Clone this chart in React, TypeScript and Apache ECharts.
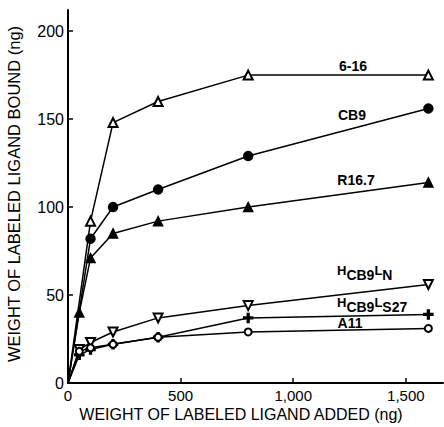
import React, { useEffect, useRef } from "react";
import * as echarts from "echarts";

const ligandAdded = [0, 50, 100, 200, 400, 800, 1600];
const s616 = [0, null, 92, 148, 160, 175, 175];
const sCB9 = [0, null, 82, 100, 110, 129, 156];
const sR167 = [0, 40, 71, 85, 92, 100, 114];
const sHLN = [0, 19, 23, 29, 37, 44, 56];
const sHLS27 = [0, 16, 19, 22, 26, 37, 39];
const sA11 = [0, 18, 20, 22, 26, 29, 31];
const xTicks = [0, 500, 1000, 1500];
const yTicks = [0, 50, 100, 150, 200];

const FONT = "'Liberation Sans', Arial, sans-serif";
const PLUS = "path://M4,0H6V4H10V6H6V10H4V6H0V4H4Z";

function mk(name: string, vals: (number | null)[], symbol: string, size: number, rotate = 0) {
  const data: any[] = [];
  ligandAdded.forEach((x, i) => {
    const v = vals[i];
    if (v === null || v === undefined) return;
    if (x === 0) data.push({ value: [x, v], symbol: "none" });
    else data.push([x, v]);
  });
  return {
    name,
    type: "line",
    data,
    symbol,
    symbolSize: size,
    symbolRotate: rotate,
    showAllSymbol: true,
    lineStyle: { color: "#000", width: 1.5 },
    itemStyle: { color: "#000", borderColor: "#000", borderWidth: 1.5 },
    z: 3,
  };
}

const lbl = (text: string, x: number, y: number) => ({
  type: "text",
  x,
  y,
  style: { text, font: `bold 14px ${FONT}`, fill: "#000", align: "center", verticalAlign: "middle" },
});

const subLbl = (sub: string, x: number, y: number) => ({
  type: "text",
  x,
  y,
  style: {
    text: `{a|H}{b|CB9}{a|L}{b|${sub}}`,
    fill: "#000",
    align: "left",
    verticalAlign: "middle",
    rich: {
      a: { font: `bold 13px ${FONT}`, fill: "#000", padding: [0, 0, 5, 0] },
      b: { font: `bold 14px ${FONT}`, fill: "#000", padding: [4, 0, 0, 0] },
    },
  },
});

export default function App() {
  const ref = useRef<HTMLDivElement>(null);
  useEffect(() => {
    if (!ref.current) return;
    const chart = echarts.init(ref.current, null, { renderer: "svg" });
    chart.setOption({
      animation: false,
      backgroundColor: "#fff",
      textStyle: { fontFamily: FONT, color: "#000" },
      grid: { left: 68, right: 1, top: 10, bottom: 44, containLabel: false },
      xAxis: {
        type: "value",
        min: 0,
        max: 1665,
        interval: 500,
        axisLine: { lineStyle: { color: "#000", width: 2 } },
        axisTick: { inside: true, length: 5, lineStyle: { color: "#000", width: 1.5 } },
        splitLine: { show: false },
        axisLabel: {
          color: "#000",
          fontSize: 15,
          fontFamily: FONT,
          margin: 5,
          showMaxLabel: false,
          formatter: (v: number) => (xTicks.includes(v) ? (v >= 1000 ? String(v).replace(/(\d)(\d{3})$/, "$1,$2") : String(v)) : ""),
        },
      },
      yAxis: {
        type: "value",
        min: 0,
        max: 212,
        interval: 50,
        axisLine: { show: true, lineStyle: { color: "#000", width: 2 } },
        axisTick: { show: true, inside: true, length: 5, lineStyle: { color: "#000", width: 1.5 } },
        splitLine: { show: false },
        axisLabel: {
          color: "#000",
          fontSize: 16,
          fontFamily: FONT,
          margin: 4,
          showMaxLabel: false,
          formatter: (v: number) => (yTicks.includes(v) ? String(v) : ""),
        },
      },
      series: [
        mk("6-16", s616, "emptyTriangle", 9),
        mk("CB9", sCB9, "circle", 9),
        mk("R16.7", sR167, "triangle", 9),
        mk("HCB9LN", sHLN, "emptyTriangle", 9, 180),
        mk("HCB9LS27", sHLS27, PLUS, 9),
        mk("A11", sA11, "emptyCircle", 7),
      ],
      graphic: [
        {
          type: "text",
          x: 14,
          y: 194,
          rotation: Math.PI / 2,
          style: {
            text: "WEIGHT OF LABELED LIGAND BOUND (ng)",
            font: `16.5px ${FONT}`,
            fill: "#000",
            align: "center",
            verticalAlign: "middle",
          },
        },
        {
          type: "text",
          x: 241,
          y: 414,
          style: {
            text: "WEIGHT OF LABELED LIGAND ADDED (ng)",
            font: `16px ${FONT}`,
            fill: "#000",
            align: "center",
            verticalAlign: "middle",
          },
        },
        lbl("6-16", 353, 66),
        lbl("CB9", 352, 115),
        lbl("R16.7", 356, 180),
        subLbl("N", 337, 273),
        subLbl("S27", 337, 305),
        lbl("A11", 350, 323),
      ],
    });
    return () => chart.dispose();
  }, []);
  return <div ref={ref} style={{ width: 444, height: 427, position: "absolute", left: 0, top: 0 }} />;
}
